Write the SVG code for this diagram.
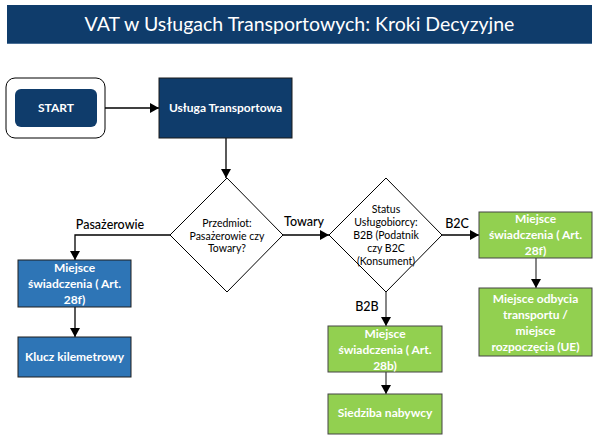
<svg xmlns="http://www.w3.org/2000/svg" width="599" height="439" viewBox="0 0 599 439">
<defs>
<marker id="arr" markerUnits="userSpaceOnUse" markerWidth="10" markerHeight="10" refX="9" refY="5" orient="auto">
<path d="M0,0 L9,5 L0,10 Z" fill="#000"/>
</marker>
<style>
.t{font-family:Lato,"Liberation Sans",sans-serif;text-anchor:middle}
.w{fill:#fff;font-weight:bold;font-size:12px}
.d{fill:#000;font-size:10.5px}
.lb{fill:#000;font-size:12.5px;font-weight:500}
.navy{fill:#0F3C6B;stroke:#1a1a1a;stroke-width:1}
.blue{fill:#2E75B6;stroke:#1f1f1f;stroke-width:1}
.green{fill:#92D050;stroke:#444;stroke-width:1}
.dia{fill:#fff;stroke:#000;stroke-width:1}
.c{fill:none;stroke:#000;stroke-width:1.3}
.cg{fill:none;stroke:#444;stroke-width:1.3}
</style>
</defs>
<rect width="599" height="439" fill="#fff"/>
<g id="title">
<rect x="7" y="5" width="585" height="39" fill="#0F3C6B"/>
<line x1="7" y1="43.5" x2="592" y2="43.5" stroke="#4a6f96" stroke-width="1"/>
<text class="t" x="299.5" y="31" fill="#fff" font-size="19.5">VAT w Usługach Transportowych: Kroki Decyzyjne</text>
</g>
<g id="connectors">
<line class="c" x1="105" y1="108" x2="159" y2="108" marker-end="url(#arr)"/>
<line class="c" x1="226" y1="138" x2="226" y2="178" marker-end="url(#arr)"/>
<polyline class="c" points="170,235 75,235 75,260" marker-end="url(#arr)"/>
<line class="c" x1="75" y1="307" x2="75" y2="337" marker-end="url(#arr)"/>
<line class="c" x1="283" y1="235" x2="329" y2="235" marker-end="url(#arr)"/>
<line class="c" x1="442" y1="235" x2="479" y2="235" marker-end="url(#arr)"/>
<line class="cg" x1="536" y1="258" x2="536" y2="288" marker-end="url(#arr)"/>
<line class="cg" x1="386" y1="292" x2="386" y2="326" marker-end="url(#arr)"/>
<line class="cg" x1="386" y1="372" x2="386" y2="394" marker-end="url(#arr)"/>
<text class="t lb" x="110" y="229">Pasażerowie</text>
<text class="t lb" x="304" y="226">Towary</text>
<text class="t lb" x="457" y="228">B2C</text>
<text class="t lb" x="367" y="311">B2B</text>
</g>
<g id="start">
<rect x="6" y="78" width="99" height="60" rx="9" fill="#fff" stroke="#000" stroke-width="1"/>
<rect x="15" y="89" width="82" height="38" rx="6" fill="#0F3C6B"/>
<text class="t w" x="56" y="112">START</text>
</g>
<g id="usluga">
<rect class="navy" x="159" y="78" width="133" height="60"/>
<text class="t w" x="225.5" y="112">Usługa Transportowa</text>
</g>
<g id="przedmiot">
<polygon class="dia" points="227,178 283,235 227,292 170,235"/>
<text class="t d" x="227" y="226.5">Przedmiot:</text>
<text class="t d" x="227" y="239.5">Pasażerowie czy</text>
<text class="t d" x="227" y="251.5">Towary?</text>
</g>
<g id="status">
<polygon class="dia" points="386,178 442,235 386,292 329,235"/>
<text class="t d" x="386" y="212.5">Status</text>
<text class="t d" x="386" y="226">Usługobiorcy:</text>
<text class="t d" x="386" y="238.5">B2B (Podatnik</text>
<text class="t d" x="386" y="251.5">czy B2C</text>
<text class="t d" x="386" y="264.5">(Konsument)</text>
</g>
<g id="miejsce28f-pas">
<rect class="blue" x="18" y="260" width="113" height="47"/>
<text class="t w" x="74.5" y="272">Miejsce</text>
<text class="t w" x="74.5" y="288">świadczenia ( Art.</text>
<text class="t w" x="74.5" y="304">28f)</text>
</g>
<g id="klucz">
<rect class="blue" x="18" y="337" width="113" height="40"/>
<text class="t w" x="74.5" y="361">Klucz kilemetrowy</text>
</g>
<g id="miejsce28f-b2c">
<rect class="green" x="479" y="212" width="113" height="46"/>
<text class="t w" x="535.5" y="223">Miejsce</text>
<text class="t w" x="535.5" y="239">świadczenia ( Art.</text>
<text class="t w" x="535.5" y="255">28f)</text>
</g>
<g id="miejsce-odbycia">
<rect class="green" x="479" y="288" width="113" height="68"/>
<text class="t w" x="535.5" y="303">Miejsce odbycia</text>
<text class="t w" x="535.5" y="319">transportu /</text>
<text class="t w" x="535.5" y="335">miejsce</text>
<text class="t w" x="535.5" y="351">rozpoczęcia (UE)</text>
</g>
<g id="miejsce28b">
<rect class="green" x="328" y="326" width="114" height="46"/>
<text class="t w" x="385" y="338">Miejsce</text>
<text class="t w" x="385" y="354">świadczenia ( Art.</text>
<text class="t w" x="385" y="370">28b)</text>
</g>
<g id="siedziba">
<rect class="green" x="328" y="394" width="114" height="40"/>
<text class="t w" x="385" y="417">Siedziba nabywcy</text>
</g>
</svg>
